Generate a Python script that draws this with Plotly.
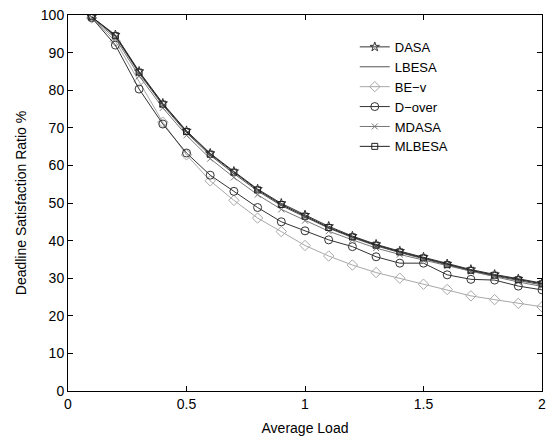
import plotly.graph_objects as go

load = [0.1, 0.2, 0.3, 0.4, 0.5, 0.6, 0.7, 0.8, 0.9, 1.0,
        1.1, 1.2, 1.3, 1.4, 1.5, 1.6, 1.7, 1.8, 1.9, 2.0]

dasa = [99.5, 94.7, 85.0, 76.5, 69.2, 63.2, 58.4, 53.7, 49.9, 46.8,
        43.8, 41.2, 39.0, 37.2, 35.6, 33.8, 32.3, 31.0, 29.8, 28.7]
lbesa = [99.5, 94.3, 84.5, 76.0, 68.7, 62.7, 57.8, 53.2, 49.3, 46.2,
         43.3, 40.8, 38.6, 36.8, 35.2, 33.4, 31.9, 30.6, 29.4, 28.2]
bev = [99.2, 93.0, 82.3, 71.5, 62.8, 55.9, 50.7, 46.0, 42.4, 38.7,
       35.9, 33.5, 31.5, 30.0, 28.4, 27.0, 25.3, 24.3, 23.3, 22.4]
dover = [99.3, 92.0, 80.3, 71.0, 63.3, 57.4, 53.1, 48.8, 45.0, 42.6,
         40.2, 38.4, 35.7, 34.0, 34.0, 30.9, 29.7, 29.5, 27.9, 26.9]
mdasa = [99.3, 93.8, 83.8, 75.3, 68.0, 61.8, 56.8, 52.2, 48.3, 45.3,
         42.5, 40.2, 38.0, 36.3, 34.8, 33.2, 31.7, 30.4, 29.0, 27.8]
mlbesa = [99.5, 94.5, 84.8, 76.3, 69.0, 63.0, 58.2, 53.5, 49.6, 46.5,
          43.5, 41.0, 38.8, 37.0, 35.4, 33.6, 32.1, 30.8, 29.6, 28.5]

series = [
    ("DASA", dasa, "star-open", "#333333", 7),
    ("LBESA", lbesa, None, "#555555", 0),
    ("BE\u2212v", bev, "diamond-open", "#a8a8a8", 8),
    ("D\u2212over", dover, "circle-open", "#333333", 8),
    ("MDASA", mdasa, "x-thin-open", "#777777", 6),
    ("MLBESA", mlbesa, "square-open", "#222222", 6),
]

fig = go.Figure()
for name, vals, sym, col, size in series:
    if sym is None:
        fig.add_trace(go.Scatter(x=load, y=vals, name=name, mode="lines",
                                 line=dict(color=col, width=1)))
    else:
        fig.add_trace(go.Scatter(x=load, y=vals, name=name, mode="lines+markers",
                                 line=dict(color=col, width=1),
                                 marker=dict(symbol=sym, size=size, color=col,
                                             line=dict(color=col, width=1))))

axis_common = dict(showgrid=False, zeroline=False, showline=True, linecolor="#000",
                   linewidth=1, mirror="ticks", ticks="inside", ticklen=5,
                   tickcolor="#000", tickfont=dict(size=14, color="#000"),
                   ticklabeloverflow="allow")

fig.update_layout(
    width=547, height=436,
    margin=dict(l=68, r=1, t=15, b=45),
    paper_bgcolor="white", plot_bgcolor="white",
    font=dict(family="Liberation Sans, Arial, sans-serif", color="#000"),
    xaxis=dict(range=[0, 2], tickvals=[0, 0.5, 1, 1.5, 2],
               ticktext=["0", "0.5", "1", "1.5", "2"],
               title=dict(text="Average Load", font=dict(size=14), standoff=12),
               **axis_common),
    yaxis=dict(range=[0, 100], tickvals=list(range(0, 101, 10)),
               title=dict(text="Deadline Satisfaction Ratio %", font=dict(size=14), standoff=10),
               **axis_common),
    legend=dict(x=0.605, y=0.955, xanchor="left", yanchor="top",
                font=dict(size=13, color="#000"), bgcolor="rgba(0,0,0,0)",
                itemwidth=30, tracegroupgap=0),
    showlegend=True,
)

fig.write_html("out.html")
